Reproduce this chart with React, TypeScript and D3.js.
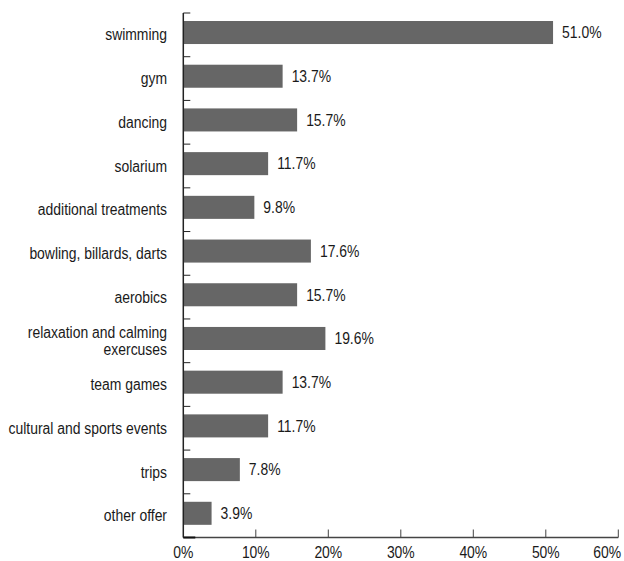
import React from "react";
import * as d3 from "d3";

const categories = [
  "swimming",
  "gym",
  "dancing",
  "solarium",
  "additional treatments",
  "bowling, billards, darts",
  "aerobics",
  "relaxation and calming|exercuses",
  "team games",
  "cultural and sports events",
  "trips",
  "other offer",
];
const values = [51.0, 13.7, 15.7, 11.7, 9.8, 17.6, 15.7, 19.6, 13.7, 11.7, 7.8, 3.9];
const xTicks = [0, 10, 20, 30, 40, 50, 60];

const W = 624, H = 561;
const left = 183.3, right = 618.3, top = 13, bottom = 537.5;
const font = "'Liberation Sans', Arial, sans-serif";
const fs = 16;
const sx = 0.87;

function T({ x, y, anchor = "start", children }: { x: number; y: number; anchor?: string; children: React.ReactNode }) {
  return (
    <text
      transform={`translate(${x},${y}) scale(${sx},1)`}
      textAnchor={anchor}
      fontFamily={font}
      fontSize={fs}
      fill="#1a1a1a"
    >
      {children}
    </text>
  );
}

export default function App() {
  const x = d3.scaleLinear().domain([0, 60]).range([left, right]);
  const y = d3.scaleBand<number>().domain(d3.range(categories.length)).range([top, bottom]).padding(0);
  const step = y.step();
  const barOff = step * 0.183;
  const barH = step * 0.527;
  const axisColor = "#222";
  return (
    <svg width={W} height={H} style={{ position: "absolute", left: 0, top: 0, background: "#fff" }}>
      {values.map((v, i) => {
        const by = y(i)! + barOff;
        return (
          <g key={i}>
            <rect x={x(0)} y={by} width={x(v) - x(0)} height={barH} fill="#666" />
            <T x={x(v) + 9} y={by + barH / 2 + 5.8}>{v.toFixed(1)}%</T>
          </g>
        );
      })}
      {categories.map((c, i) => {
        const lines = c.split("|");
        const cy = y(i)! + step / 2;
        return (
          <g key={i}>
            {lines.map((l, j) => (
              <T key={j} x={167} y={cy + (j - (lines.length - 1) / 2) * 17 + 5.6} anchor="end">{l}</T>
            ))}
          </g>
        );
      })}
      {d3.range(categories.length + 1).map((i) => (
        <line key={i} x1={left} x2={left + 7} y1={top + step * i} y2={top + step * i} stroke={axisColor} strokeWidth={1} />
      ))}
      <line x1={left} x2={left} y1={top} y2={bottom} stroke={axisColor} strokeWidth={1.5} />
      <line x1={left} x2={right} y1={bottom} y2={bottom} stroke="#444" strokeWidth={1.5} />
      <line x1={left} x2={left + 12} y1={bottom} y2={bottom} stroke="#111" strokeWidth={2} />
      {xTicks.map((t, k) => (
        <g key={t}>
          {t > 0 && <line x1={x(t)} x2={x(t)} y1={bottom} y2={bottom - 8} stroke="#444" strokeWidth={1} />}
          <T x={k === xTicks.length - 1 ? 621 : x(t)} y={558} anchor={k === xTicks.length - 1 ? "end" : "middle"}>
            {t}%
          </T>
        </g>
      ))}
    </svg>
  );
}
